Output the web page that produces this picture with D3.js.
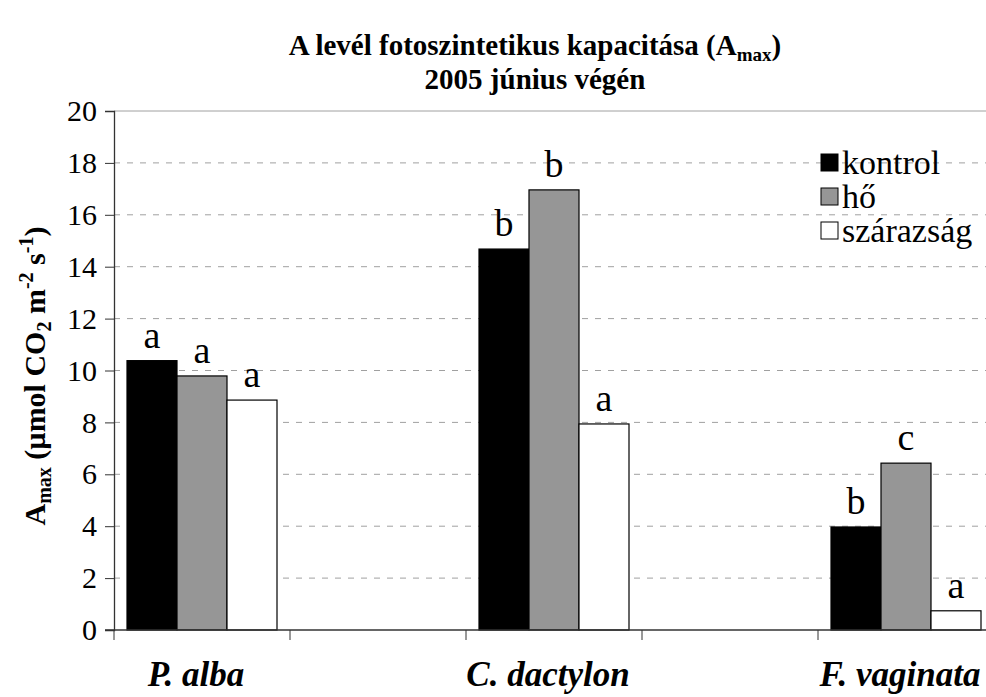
<!DOCTYPE html>
<html>
<head>
<meta charset="utf-8">
<script src="https://cdn.jsdelivr.net/npm/d3@7"></script>
<style>
  body { margin: 0; background: white; }
  svg text { font-family: "Liberation Serif", "Times New Roman", Times, "DejaVu Serif", serif !important; }
</style>
</head>
<body>
<svg id="chart"></svg>
<script>
// data
var categories = ["P. alba", "C. dactylon", "F. vaginata"];
var slots = ["P. alba", "gap1", "C. dactylon", "gap2", "F. vaginata"];
var series = ["kontrol", "hő", "szárazság"];
var kontrol = [10.38, 14.68, 3.97];
var ho = [9.79, 16.96, 6.43];
var szarazsag = [8.86, 7.94, 0.74];
var kontrolLetters = ["a", "b", "b"];
var hoLetters = ["a", "b", "c"];
var szarazsagLetters = ["a", "a", "a"];
var yTicks = [0, 2, 4, 6, 8, 10, 12, 14, 16, 18, 20];

var colors = {"kontrol": "#000000", "hő": "#969696", "szárazság": "#ffffff"};
var values = {"kontrol": kontrol, "hő": ho, "szárazság": szarazsag};
var letters = {"kontrol": kontrolLetters, "hő": hoLetters, "szárazság": szarazsagLetters};

var W = 986, H = 697;
var margin = {top: 111, left: 114, bottom: 67};
var plotW = 880, plotH = H - margin.top - margin.bottom;

var svg = d3.select("#chart").attr("width", W).attr("height", H);

var x0 = d3.scaleBand().domain(slots).range([0, plotW]).padding(0);
var x1 = d3.scaleBand().domain(series).range([0, x0.bandwidth()])
           .paddingInner(0).paddingOuter(0.26);
var y = d3.scaleLinear().domain([0, 20]).range([plotH, 0]);

var g = svg.append("g")
  .attr("transform", "translate(" + margin.left + "," + margin.top + ")");

// gridlines
g.selectAll("line.grid")
  .data(yTicks.filter(d => d > 0 && d < 20))
  .enter().append("line")
  .attr("class", "grid")
  .attr("x1", 0).attr("x2", plotW)
  .attr("y1", d => y(d)).attr("y2", d => y(d))
  .attr("stroke", "#a0a0a0").attr("stroke-width", 1)
  .attr("stroke-dasharray", "6,7");

// top border line at 20
g.append("line")
  .attr("x1", 0).attr("x2", plotW)
  .attr("y1", y(20)).attr("y2", y(20))
  .attr("stroke", "#a0a0a0").attr("stroke-width", 1);

// bars
var rows = [];
categories.forEach(function(c, i) {
  series.forEach(function(s) {
    rows.push({cat: c, s: s, v: values[s][i], l: letters[s][i]});
  });
});

g.selectAll("rect.bar")
  .data(rows)
  .enter().append("rect")
  .attr("class", "bar")
  .attr("x", d => x0(d.cat) + x1(d.s))
  .attr("y", d => y(d.v))
  .attr("width", x1.bandwidth())
  .attr("height", d => plotH - y(d.v))
  .attr("fill", d => colors[d.s])
  .attr("stroke", "#000").attr("stroke-width", 1.2);

g.selectAll("text.sig")
  .data(rows)
  .enter().append("text")
  .attr("class", "sig")
  .attr("x", d => x0(d.cat) + x1(d.s) + x1.bandwidth() / 2)
  .attr("y", d => y(d.v) - 13)
  .attr("text-anchor", "middle")
  .style("font-size", "38px")
  .text(d => d.l);

// y axis
var yAxis = g.append("g")
  .call(d3.axisLeft(y).tickValues(yTicks).tickSize(9).tickPadding(8));
yAxis.attr("font-family", null);
yAxis.select(".domain").attr("stroke", "#333").attr("stroke-width", 1.3);
yAxis.selectAll(".tick line").attr("stroke", "#333");
yAxis.selectAll("text")
  .style("font-size", "30px").attr("fill", "#000");

// x axis, ticks between categories
var bounds = d3.range(slots.length + 1).map(i => i * x0.step());
g.append("line")
  .attr("x1", -9).attr("x2", plotW)
  .attr("y1", plotH).attr("y2", plotH)
  .attr("stroke", "#333").attr("stroke-width", 1.3);
g.selectAll("line.xtick")
  .data(bounds)
  .enter().append("line")
  .attr("x1", d => d).attr("x2", d => d)
  .attr("y1", plotH).attr("y2", plotH + 10)
  .attr("stroke", "#333");

g.selectAll("text.cat")
  .data(categories)
  .enter().append("text")
  .attr("x", d => x0(d) + x0.bandwidth() / 2 - 6)
  .attr("y", plotH + 56)
  .attr("text-anchor", "middle")
  .style("font-size", "35px")
  .style("font-weight", "bold")
  .style("font-style", "italic")
  .text(d => d);

// title
var title = svg.append("text")
  .attr("x", 535).attr("text-anchor", "middle")
  .style("font-size", "29px").style("font-weight", "bold");
title.append("tspan").attr("x", 535).attr("y", 55).text("A levél fotoszintetikus kapacitása (A");
title.append("tspan").attr("dy", 6).style("font-size", "19px").text("max");
title.append("tspan").attr("dy", -6).text(")");
svg.append("text")
  .attr("x", 535).attr("y", 89).attr("text-anchor", "middle")
  .style("font-size", "29px").style("font-weight", "bold")
  .text("2005 június végén");

// y axis title
var yt = svg.append("text")
  .attr("transform", "translate(45,376) rotate(-90)")
  .attr("text-anchor", "middle")
  .style("font-size", "30px").style("font-weight", "bold");
yt.append("tspan").text("A");
yt.append("tspan").attr("dy", 6).style("font-size", "20px").text("max");
yt.append("tspan").attr("dy", -6).text(" (µmol CO");
yt.append("tspan").attr("dy", 6).style("font-size", "20px").text("2");
yt.append("tspan").attr("dy", -6).text(" m");
yt.append("tspan").attr("dy", -12).style("font-size", "20px").text("-2");
yt.append("tspan").attr("dy", 12).text(" s");
yt.append("tspan").attr("dy", -12).style("font-size", "20px").text("-1");
yt.append("tspan").attr("dy", 12).text(")");

// legend
var legend = svg.append("g").attr("transform", "translate(821,0)");
series.forEach(function(s, i) {
  var cy = 163 + i * 34;
  legend.append("rect")
    .attr("x", 0).attr("y", cy - 9)
    .attr("width", 17).attr("height", 17)
    .attr("fill", colors[s]).attr("stroke", "#000").attr("stroke-width", 1);
  legend.append("text")
    .attr("x", 21).attr("y", cy + 11)
    .style("font-size", "34px")
    .text(s);
});
</script>
</body>
</html>
